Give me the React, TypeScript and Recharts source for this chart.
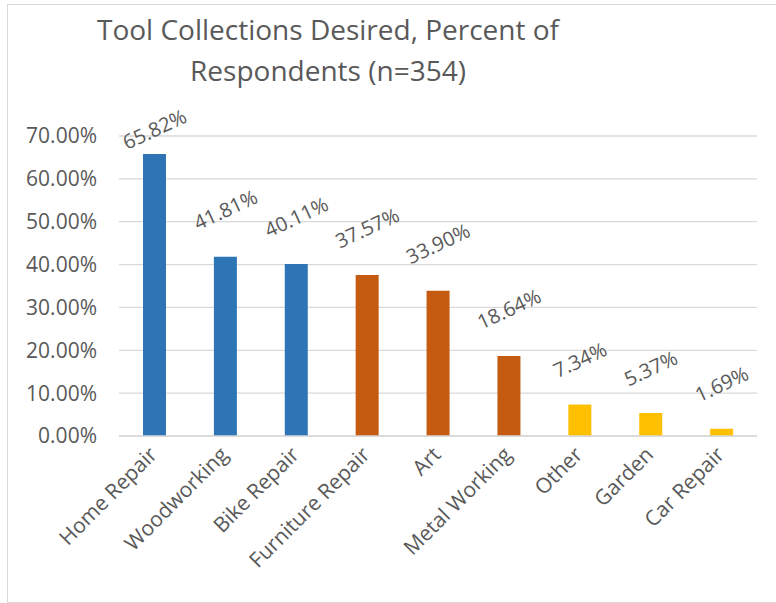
import React from 'react'
import { BarChart, Bar, XAxis, YAxis, CartesianGrid, Cell, LabelList } from 'recharts'

const categories = [
  'Home Repair',
  'Woodworking',
  'Bike Repair',
  'Furniture Repair',
  'Art',
  'Metal Working',
  'Other',
  'Garden',
  'Car Repair',
]
const percents = [65.82, 41.81, 40.11, 37.57, 33.9, 18.64, 7.34, 5.37, 1.69]
const groups = ['top', 'top', 'top', 'mid', 'mid', 'mid', 'low', 'low', 'low']
const yTicks = [0, 10, 20, 30, 40, 50, 60, 70]

const groupColors: Record<string, string> = {
  top: '#2E75B6',
  mid: '#C55A11',
  low: '#FFC000',
}

const data = categories.map((name, i) => ({ name, value: percents[i], group: groups[i] }))

const FONT = '"Open Sans", sans-serif'
const TEXT = '#595959'
const GRID = '#d9d9d9'
const LABEL_ANGLE = -25

function fmt(v: number) {
  return `${v.toFixed(2)}%`
}

// value label, tilted, sitting above the bar (kept below the title)
function ValueLabel(props: any) {
  const { x, y, width, value } = props
  const s = fmt(Number(value))
  const cx = Number(x) + Number(width) / 2
  const rad = (Math.abs(LABEL_ANGLE) * Math.PI) / 180
  const len = s.length * 11.2
  const h = 18
  const d = (len * Math.sin(rad) + h * Math.cos(rad)) / 2 + 25
  const cy = Math.max(Number(y) - d, 129)
  return (
    <text
      x={cx}
      y={cy}
      textAnchor="middle"
      dominantBaseline="central"
      fill={TEXT}
      fontSize={20}
      fontFamily={FONT}
      transform={`rotate(${LABEL_ANGLE} ${cx} ${cy})`}
    >
      {s}
    </text>
  )
}

function CategoryTick(props: any) {
  const { x, y, payload } = props
  const tx = x + 4
  const ty = y + 12
  return (
    <text
      x={tx}
      y={ty}
      textAnchor="end"
      fill={TEXT}
      fontSize={21}
      fontFamily={FONT}
      transform={`rotate(-45 ${tx} ${ty})`}
    >
      {payload.value}
    </text>
  )
}

export default function App() {
  return (
    <div style={{ position: 'absolute', left: 0, top: 0, width: 776, height: 603, background: '#fff' }}>
      <div
        style={{
          position: 'absolute',
          left: 7,
          top: 4,
          width: 769,
          height: 599,
          boxSizing: 'border-box',
          borderTop: `1.5px solid ${GRID}`,
          borderLeft: `1.5px solid ${GRID}`,
          borderBottom: `1.5px solid ${GRID}`,
        }}
      />
      <div
        style={{
          position: 'absolute',
          left: 0,
          top: 9,
          width: 656,
          textAlign: 'center',
          fontFamily: FONT,
          fontSize: 28,
          lineHeight: '41px',
          color: TEXT,
        }}
      >
        Tool Collections Desired, Percent of
        <br />
        Respondents (n=354)
      </div>
      <div style={{ position: 'absolute', left: 0, top: 0 }}>
        <BarChart
          width={776}
          height={603}
          data={data}
          margin={{ top: 136, right: 19, bottom: 107, left: 0 }}
          barSize={23}
        >
          <CartesianGrid vertical={false} stroke={GRID} strokeWidth={1.3} />
          <XAxis
            dataKey="name"
            interval={0}
            height={60}
            tickLine={false}
            axisLine={{ stroke: GRID, strokeWidth: 1.5 }}
            tick={<CategoryTick />}
          />
          <YAxis
            width={119}
            domain={[0, 70]}
            ticks={yTicks}
            tickFormatter={fmt}
            tickLine={false}
            axisLine={false}
            tickMargin={16}
            tick={{ fill: TEXT, fontSize: 21, fontFamily: FONT }}
          />
          <Bar dataKey="value" isAnimationActive={false}>
            {data.map((d, i) => (
              <Cell key={i} fill={groupColors[d.group]} />
            ))}
            <LabelList dataKey="value" content={<ValueLabel />} />
          </Bar>
        </BarChart>
      </div>
    </div>
  )
}
